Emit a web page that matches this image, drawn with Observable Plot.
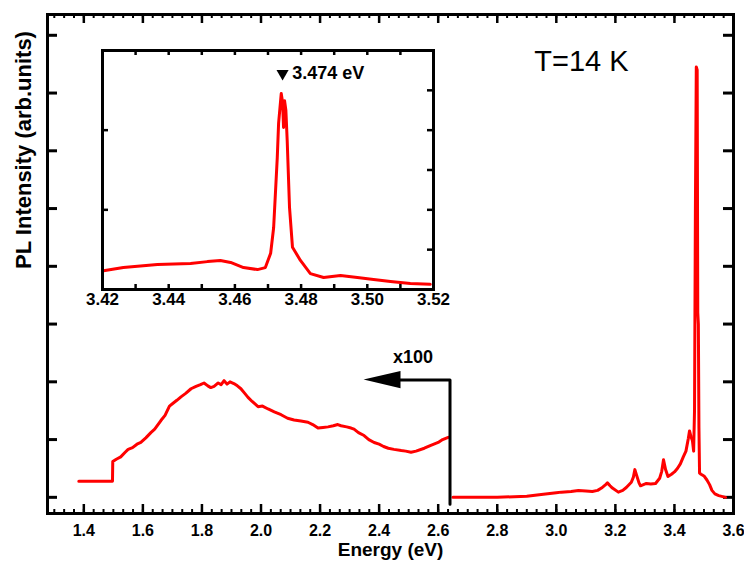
<!DOCTYPE html>
<html><head><meta charset="utf-8">
<script src="https://cdn.jsdelivr.net/npm/d3@7"></script>
<script src="https://cdn.jsdelivr.net/npm/@observablehq/plot@0.6"></script>
<style>
html,body{margin:0;padding:0;background:#fff;}
#wrap{position:relative;width:744px;height:571px;}
#wrap svg{position:absolute;left:0;top:0;}
</style></head><body><div id="wrap"></div>
<script>
// ---- data ----
// x100-magnified low-energy part of the PL spectrum
const lowE = [1.383,1.497,1.498,1.51,1.525,1.54,1.55,1.565,1.58,1.593,1.61,1.627,1.64,1.661,1.675,1.69,1.70,1.715,1.729,1.745,1.763,1.78,1.795,1.807,1.82,1.83,1.841,1.855,1.865,1.875,1.885,1.895,1.908,1.92,1.932,1.945,1.956,1.97,1.99,2.005,2.024,2.045,2.068,2.09,2.112,2.135,2.159,2.175,2.193,2.21,2.227,2.245,2.26,2.271,2.29,2.305,2.315,2.33,2.349,2.365,2.383,2.40,2.415,2.431,2.45,2.475,2.49,2.508,2.525,2.553,2.575,2.60,2.615,2.634];
const lowI = [0.28,0.28,0.62,0.66,0.70,0.78,0.83,0.86,0.92,0.95,1.03,1.12,1.18,1.33,1.42,1.58,1.62,1.68,1.74,1.80,1.88,1.92,1.95,1.98,1.93,1.90,1.92,1.98,1.95,2.02,1.96,2.00,1.97,1.93,1.88,1.80,1.73,1.66,1.57,1.58,1.53,1.48,1.43,1.37,1.34,1.32,1.30,1.26,1.20,1.21,1.22,1.24,1.26,1.24,1.22,1.20,1.18,1.12,1.07,1.00,0.95,0.92,0.88,0.85,0.83,0.81,0.80,0.78,0.80,0.85,0.90,0.95,1.00,1.04];
// unmagnified high-energy part
const highE = [2.65,2.80,2.90,2.949,3.0,3.017,3.05,3.075,3.10,3.122,3.14,3.153,3.165,3.173,3.182,3.19,3.21,3.225,3.237,3.254,3.261,3.266,3.272,3.28,3.285,3.305,3.32,3.336,3.35,3.357,3.363,3.37,3.378,3.39,3.40,3.41,3.42,3.43,3.439,3.447,3.451,3.456,3.461,3.465,3.468,3.471,3.474,3.477,3.479,3.481,3.483,3.485,3.49,3.50,3.51,3.519,3.527,3.537,3.55,3.573];
const highI = [0.0,0.0,0.02,0.05,0.08,0.09,0.10,0.12,0.11,0.10,0.12,0.16,0.21,0.25,0.20,0.16,0.09,0.12,0.17,0.26,0.35,0.48,0.38,0.25,0.20,0.24,0.23,0.24,0.33,0.45,0.65,0.48,0.36,0.40,0.44,0.50,0.58,0.70,0.80,1.02,1.15,1.05,0.98,0.80,1.5,5.0,7.45,7.4,3.2,3.0,1.2,0.42,0.40,0.37,0.30,0.22,0.12,0.06,0.03,0.0];
// inset: zoom on the band-edge peak
const insetE = [3.4203,3.4263,3.4366,3.4466,3.4517,3.4556,3.4587,3.4626,3.4668,3.4692,3.4708,3.4717,3.4728,3.4732,3.474,3.4744,3.4747,3.475,3.4754,3.4758,3.4765,3.4774,3.4798,3.4828,3.4868,3.4919,3.497,3.5019,3.507,3.513,3.519];
const insetI = [0.47,0.55,0.63,0.65,0.70,0.73,0.68,0.55,0.50,0.55,0.91,1.55,3.31,4.17,4.92,4.70,4.07,4.74,4.50,3.74,2.06,1.06,0.73,0.40,0.30,0.35,0.30,0.25,0.20,0.15,0.13];
// tick labels
const xTicks = [1.4,1.6,1.8,2.0,2.2,2.4,2.6,2.8,3.0,3.2,3.4,3.6];
const yTicks = [0,1,2,3,4,5,6,7,8];
const insetTicks = [3.42,3.44,3.46,3.48,3.50,3.52];
const insetMinor = [3.43,3.44,3.45,3.46,3.47,3.48,3.49,3.50,3.51];
const insetYRight = [1,2,3,4,5];
const insetYLeft = [2,4];
// texts
const tempLabel = "T=14 K";
const magLabel = "x100";
const peakLabel = "3.474 eV";
const peakE = 3.474;
const xLabel = "Energy (eV)";
const yLabel = "PL Intensity (arb.units)";
// magnification arrow (data coords)
const arrowX = 2.64, arrowTop = 2.03, arrowTip = 2.349;

const low = lowE.map((e,i)=>({e, v: lowI[i]}));
const high = highE.map((e,i)=>({e, v: highI[i]}));
const ins = insetE.map((e,i)=>({e, v: insetI[i]}));
const xMinor = d3.range(1.3, 3.6001, 0.2/6).filter(d => d > 1.28);

const FONT = '"Liberation Sans", Arial, sans-serif';
const W = 744, H = 571;
const mL = 47, mR = 11, mT = 14, mB = 58;
const fw = W - mL - mR, fh = H - mT - mB;
const RED = "#ff0000";

const main = Plot.plot({
  width: W, height: H,
  marginLeft: mL, marginRight: mR, marginTop: mT, marginBottom: mB,
  style: {fontFamily: FONT, background: "white", overflow: "visible"},
  x: {domain: [1.277, 3.6], axis: null},
  y: {domain: [-0.28, 8.36], axis: null},
  marks: [
    // inward ticks
    Plot.ruleX(xMinor, {insetTop: fh - 4, stroke: "black", strokeWidth: 2}),
    Plot.ruleX(xMinor, {insetBottom: fh - 4, stroke: "black", strokeWidth: 2}),
    Plot.ruleX(xTicks, {insetTop: fh - 9, stroke: "black", strokeWidth: 2.5}),
    Plot.ruleX(xTicks, {insetBottom: fh - 9, stroke: "black", strokeWidth: 2.5}),
    Plot.ruleY(yTicks, {insetRight: fw - 10, stroke: "black", strokeWidth: 3}),
    Plot.ruleY(yTicks, {insetLeft: fw - 10, stroke: "black", strokeWidth: 3}),
    // spectrum
    Plot.line(low, {x: "e", y: "v", stroke: RED, strokeWidth: 3}),
    Plot.line(high, {x: "e", y: "v", stroke: RED, strokeWidth: 3}),
    // magnification arrow
    Plot.line([{x: arrowX, y: -0.12}, {x: arrowX, y: arrowTop}, {x: arrowTip + 0.11, y: arrowTop}],
      {x: "x", y: "y", stroke: "black", strokeWidth: 3}),
    Plot.areaY([{x: arrowTip, y1: arrowTop, y2: arrowTop}, {x: arrowTip + 0.125, y1: arrowTop - 0.15, y2: arrowTop + 0.15}],
      {x: "x", y1: "y1", y2: "y2", fill: "black"}),
    Plot.text([magLabel], {x: 2.515, y: 2.42, fontSize: 18, fontWeight: "bold", fill: "black"}),
    Plot.text([tempLabel], {x: 3.085, y: 7.55, fontSize: 29, fill: "black"}),
    // axes
    Plot.frame({stroke: "black", strokeWidth: 3}),
    Plot.axisX({anchor: "bottom", ticks: xTicks, tickSize: 0, tickPadding: 11, tickFormat: d => d.toFixed(1),
      fontSize: 16, fontWeight: "bold", label: null}),
    Plot.text([xLabel], {frameAnchor: "bottom", dy: 42, fontSize: 19, fontWeight: "bold", fill: "black"}),
    Plot.text([yLabel], {frameAnchor: "left", rotate: -90, dx: -24, dy: 5, fontSize: 22, fontWeight: "bold", fill: "black"})
  ]
});

const iL = 102, iR = W - 433, iT = 50, iB = H - 289;
const iw = W - iL - iR, ih = H - iT - iB;
const inset = Plot.plot({
  width: W, height: H,
  marginLeft: iL, marginRight: iR, marginTop: iT, marginBottom: iB,
  style: {fontFamily: FONT, background: "transparent", overflow: "visible"},
  x: {domain: [3.42, 3.52], axis: null},
  y: {domain: [0, 6], axis: null},
  marks: [
    Plot.ruleX(insetMinor, {insetTop: ih - 5, stroke: "black", strokeWidth: 2.5}),
    Plot.ruleX(insetMinor, {insetBottom: ih - 5, stroke: "black", strokeWidth: 2.5}),
    Plot.ruleY(insetYRight, {insetLeft: iw - 6, stroke: "black", strokeWidth: 2.5}),
    Plot.ruleY(insetYLeft, {insetRight: iw - 6, stroke: "black", strokeWidth: 2.5}),
    Plot.line(ins, {x: "e", y: "v", stroke: RED, strokeWidth: 3}),
    Plot.dot([peakE], {x: d => d + 0.0004, y: 5.42, symbol: "triangle", rotate: 180, r: 4.5, fill: "black", stroke: "none"}),
    Plot.text([peakLabel], {x: peakE, y: 5.42, dx: 11, textAnchor: "start", fontSize: 18, fontWeight: "bold", fill: "black"}),
    Plot.frame({stroke: "black", strokeWidth: 3}),
    Plot.axisX({anchor: "bottom", ticks: insetTicks, tickSize: 0, tickPadding: 3, tickFormat: d => d.toFixed(2),
      fontSize: 17, fontWeight: "bold", label: null})
  ]
});

const wrap = document.getElementById("wrap");
wrap.appendChild(main);
wrap.appendChild(inset);
</script></body></html>
